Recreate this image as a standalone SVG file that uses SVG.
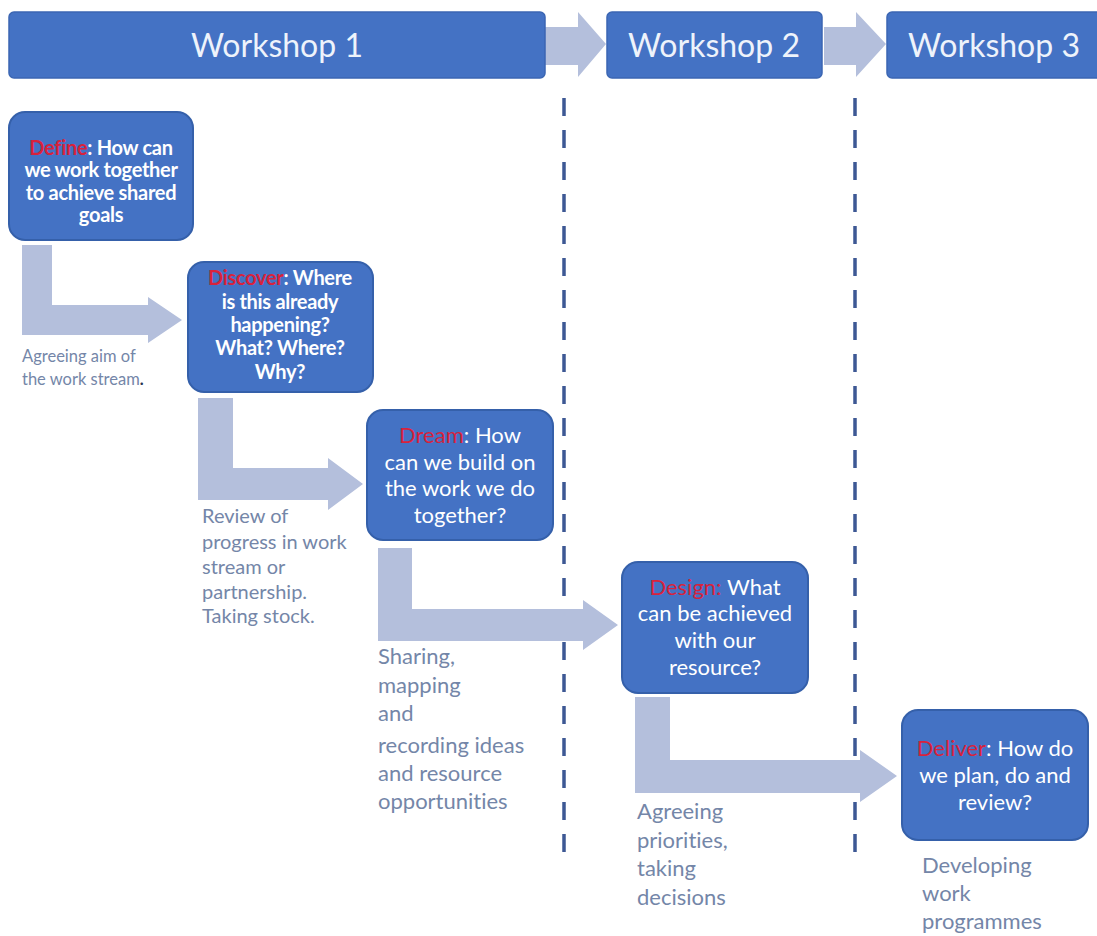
<svg xmlns="http://www.w3.org/2000/svg" width="1097" height="936" viewBox="0 0 1097 936">
<style>
text{font-variant-ligatures:none}
.hdr{fill:#4472c4;stroke:#3b66b3;stroke-width:1.5}
.hdrt{font-family:Lato,"Liberation Sans",sans-serif;font-size:32px;fill:#eef3fb;text-anchor:middle}
.box{fill:#4472c4;stroke:#3560aa;stroke-width:2}
.bt{font-family:Lato,"Liberation Sans",sans-serif;fill:#ffffff;text-anchor:middle}
.b1{font-size:20px;font-weight:bold;letter-spacing:-0.3px}
.b2{font-size:22px}
.red{fill:#d8223c}
.arr{fill:#b4bfdc}
.lbl{font-family:Lato,"Liberation Sans",sans-serif;fill:#7486a8}
.dash{stroke:#3d5894;stroke-width:3.5;stroke-dasharray:18 14;fill:none}
</style>
<rect width="1097" height="936" fill="#ffffff"/>
<g id="connectors">
<polygon class="arr" points="545,27 578,27 578,12 606,44 578,77 578,65 545,65"/>
<polygon class="arr" points="824,27 856,27 856,12 886,44 856,77 856,65 824,65"/>
<line class="dash" x1="564" y1="98" x2="564" y2="858"/>
<line class="dash" x1="855" y1="98" x2="855" y2="858"/>
<polygon class="arr" points="22,245 52,245 52,305 148,305 148,297 182,320 148,343 148,335 22,335"/>
<polygon class="arr" points="198,398 233,398 233,468 328,468 328,458 363,484 328,510 328,500 198,500"/>
<polygon class="arr" points="378,548 412,548 412,609 583,609 583,600 618,625 583,650 583,641 378,641"/>
<polygon class="arr" points="635,697 670,697 670,760 860,760 860,750 897,776 860,802 860,793 635,793"/>
</g>
<g id="workshop1">
<rect class="hdr" x="9" y="12" width="536" height="66" rx="5"/>
<text class="hdrt" x="277" y="57">Workshop 1</text>
</g>
<g id="workshop2">
<rect class="hdr" x="607" y="12" width="215" height="66" rx="5"/>
<text class="hdrt" x="714" y="57">Workshop 2</text>
</g>
<g id="workshop3">
<rect class="hdr" x="887" y="12" width="215" height="66" rx="5"/>
<text class="hdrt" x="994" y="57">Workshop 3</text>
</g>
<g id="define">
<rect class="box" x="9" y="112" width="184" height="128" rx="16"/>
<text class="bt b1" x="101" y="155"><tspan class="red">Define</tspan>: How can</text>
<text class="bt b1" x="101" y="177">we work together</text>
<text class="bt b1" x="101" y="200">to achieve shared</text>
<text class="bt b1" x="101" y="222">goals</text>
</g>
<g id="discover">
<rect class="box" x="188" y="262" width="185" height="130" rx="16"/>
<text class="bt b1" x="280" y="285"><tspan class="red">Discover</tspan>: Where</text>
<text class="bt b1" x="280" y="309">is this already</text>
<text class="bt b1" x="280" y="332">happening?</text>
<text class="bt b1" x="280" y="355">What? Where?</text>
<text class="bt b1" x="280" y="379">Why?</text>
</g>
<g id="dream">
<rect class="box" x="367" y="410" width="186" height="130" rx="16"/>
<text class="bt b2" x="460" y="443"><tspan class="red">Dream</tspan>: How</text>
<text class="bt b2" x="460" y="470">can we build on</text>
<text class="bt b2" x="460" y="496">the work  we do</text>
<text class="bt b2" x="460" y="523">together?</text>
</g>
<g id="design">
<rect class="box" x="622" y="562" width="186" height="131" rx="16"/>
<text class="bt b2" x="715" y="595"><tspan class="red">Design:</tspan> What</text>
<text class="bt b2" x="715" y="621">can be achieved</text>
<text class="bt b2" x="715" y="648">with our</text>
<text class="bt b2" x="715" y="675">resource?</text>
</g>
<g id="deliver">
<rect class="box" x="902" y="710" width="186" height="130" rx="16"/>
<text class="bt b2" x="995" y="756"><tspan class="red">Deliver</tspan>: How do</text>
<text class="bt b2" x="995" y="783">we plan, do and</text>
<text class="bt b2" x="995" y="810">review?</text>
</g>
<g id="labels">
<text class="lbl" font-size="16.5" x="22" y="362">Agreeing aim of</text>
<text class="lbl" font-size="16.5" x="22" y="385">the work stream<tspan fill="#2b3550" font-weight="bold">.</tspan></text>
<text class="lbl" font-size="20" x="202" y="523">Review of</text>
<text class="lbl" font-size="20" x="202" y="549">progress in work</text>
<text class="lbl" font-size="20" x="202" y="574">stream or</text>
<text class="lbl" font-size="20" x="202" y="599">partnership.</text>
<text class="lbl" font-size="20" x="202" y="623">Taking stock.</text>
<text class="lbl" font-size="22" x="378" y="664">Sharing,</text>
<text class="lbl" font-size="22" x="378" y="693">mapping</text>
<text class="lbl" font-size="22" x="378" y="721">and</text>
<text class="lbl" font-size="22" x="378" y="753">recording ideas</text>
<text class="lbl" font-size="22" x="378" y="781">and resource</text>
<text class="lbl" font-size="22" x="378" y="809">opportunities</text>
<text class="lbl" font-size="22" x="637" y="819">Agreeing</text>
<text class="lbl" font-size="22" x="637" y="848">priorities,</text>
<text class="lbl" font-size="22" x="637" y="876">taking</text>
<text class="lbl" font-size="22" x="637" y="905">decisions</text>
<text class="lbl" font-size="22" x="922" y="873">Developing</text>
<text class="lbl" font-size="22" x="922" y="901">work</text>
<text class="lbl" font-size="22" x="922" y="929">programmes</text>
</g>
</svg>
